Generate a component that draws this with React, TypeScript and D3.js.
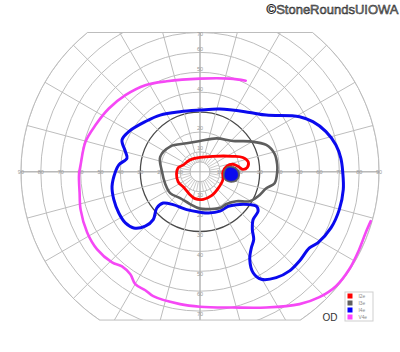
import React from "react";
import * as d3 from "d3";

// ---- grid definition (visual-field degrees) ----
const rings = [10, 20, 30, 40, 50, 60, 70, 80, 90];
const innerRing = 5;
const radialAngles = d3.range(0, 360, 15);
const innerSpokeAngles = d3.range(0, 360, 10);
const hLabels = [10, 20, 30, 40, 50, 60, 70, 80, 90];
const vLabels = [10, 20, 30, 40, 50, 60, 70];
const clipTop = 70;
const clipBottom = -74.5;

// ---- isopters: [horizontal deg, vertical deg] ----
const V4e: [number, number][] = [
  [23, 45.8], [15, 46.8], [0, 46.8], [-16.7, 45.5], [-27.5, 43.5], [-37.5, 38.5],
  [-45.8, 31.8], [-52.5, 23.5], [-57.5, 15.2], [-60, 3.5], [-60.8, -1.5], [-60.5, -10.5],
  [-60, -19], [-56.7, -30.5], [-51.7, -39], [-44.2, -45.5], [-39.2, -47.5], [-35, -51.5],
  [-32.5, -56.5], [-27.5, -59.5], [-23.5, -62.5], [-10, -66.5], [0, -67.8], [16.5, -68.2],
  [33.3, -68.2], [50, -66.5], [60, -63], [68.3, -57.5], [75, -49], [80, -39],
  [83.3, -30.5], [85.8, -24.8],
];

const I4e: [number, number][] = [
  [0, 31], [10, 31.5], [25, 29.8], [33.3, 28.5], [50, 27.7], [56.7, 25.2], [63.3, 20.2],
  [68.3, 13.5], [70.8, 6.8], [71.7, 0.2], [72, -9], [70, -19], [65.8, -28.2], [59.2, -35.7],
  [55, -38.2], [50, -44.8], [45, -49.8], [38.3, -53.2], [30.8, -54], [26.7, -50.7],
  [25, -44], [25.8, -38.2], [27, -34], [26.3, -29], [26.7, -24], [29.2, -19.8],
  [28.3, -17.3], [25, -16.5], [18.3, -16.5], [14.2, -17.3], [10, -19.8], [4.2, -20.7],
  [0, -20.3], [-6.7, -19], [-13.5, -16.5], [-18.5, -15.7], [-21.7, -18.2], [-23.5, -24],
  [-27.5, -27.3], [-33.3, -28.2], [-37.5, -25.7], [-40.8, -20.7], [-43.3, -14],
  [-44.2, -7.3], [-42.5, 0], [-40.8, 3.5], [-36.7, 6.8], [-37.5, 10.2], [-39.2, 16],
  [-35.8, 20.2], [-27.5, 25.2], [-20, 28.5], [-10, 30.2],
];

const I3e: [number, number][] = [
  [0, 15.5], [8.3, 16.8], [16.5, 15.5], [25, 15.3], [33.3, 13.5], [37.5, 9], [38.8, 3.5],
  [38.8, 0], [37.5, -5.7], [33.3, -8.3], [29.2, -12.3], [25, -14.8], [18.3, -14.8],
  [13.3, -16.2], [10, -18.2], [5, -18.7], [0, -18.5], [-5, -16.2], [-10, -13.2],
  [-15, -10.7], [-17.5, -6], [-19.2, 0.5], [-20, 7.5], [-15, 12.7], [-6.7, 14.3],
];

const I2e: [number, number][] = [
  [-8.3, 3.5], [-5, 6], [0, 7.2], [6.5, 7.8], [16.5, 7.8], [21.5, 7.2], [24.2, 5],
  [23.8, 2.2], [21.5, 1.2], [19, 2.8], [16.5, 3.8], [13.5, 2.8], [11.5, -0.2], [11.5, -4],
  [9.2, -8.2], [5.8, -12], [1.7, -13.8], [-2.5, -13.5], [-5.5, -11], [-8, -8], [-11, -5],
  [-11.8, -1], [-11, 2],
];

// blind spot islands
const blindI3e: [number, number][] = [
  [15.5, 2.8], [18.8, 1.5], [19.8, -1.5], [18.5, -4.5], [15.5, -5.2], [12.5, -4], [11.8, -1], [13, 2],
];
const blindI4e: [number, number][] = [
  [15.5, 2], [18, 1], [19, -1.5], [18, -3.8], [15.5, -4.5], [13, -3.5], [12.5, -1], [13.5, 1.5],
];

const legendNames = ["I2e", "I3e", "I4e", "V4e"];
const legendColors = ["#ff0000", "#606060", "#0000ff", "#ff44ff"];

export default function App() {
  const CX = 200;
  const CY = 171.8;
  const R90 = 179.1;
  const x = d3.scaleLinear().domain([-90, 90]).range([CX - R90, CX + R90]);
  const y = d3.scaleLinear().domain([-90, 90]).range([CY + R90, CY - R90]);
  const r = (d: number) => x(d) - x(0);

  const yTop = y(clipTop);
  const yBot = y(clipBottom);
  const halfTop = Math.sqrt(R90 * R90 - (CY - yTop) ** 2);
  const halfBot = Math.sqrt(R90 * R90 - (yBot - CY) ** 2);
  const boundary =
    `M${CX - halfTop},${yTop} L${CX + halfTop},${yTop} ` +
    `A${R90},${R90} 0 0 1 ${CX + halfBot},${yBot} ` +
    `L${CX - halfBot},${yBot} A${R90},${R90} 0 0 1 ${CX - halfTop},${yTop} Z`;

  const closed = d3
    .line<[number, number]>()
    .x((d) => x(d[0]))
    .y((d) => y(d[1]))
    .curve(d3.curveCatmullRomClosed.alpha(0.5));
  const open = d3
    .line<[number, number]>()
    .x((d) => x(d[0]))
    .y((d) => y(d[1]))
    .curve(d3.curveCatmullRom.alpha(0.5));

  const gridColor = "#bdbdbd";
  const labelColor = "#9a9a9a";
  const rad = (a: number) => (a * Math.PI) / 180;

  return (
    <svg
      width={400}
      height={352}
      style={{ position: "absolute", left: 0, top: 0, background: "#fff" }}
      fontFamily="Liberation Sans, Arial, sans-serif"
    >
      <defs>
        <clipPath id="field">
          <path d={boundary} />
        </clipPath>
      </defs>
      <rect width={400} height={352} fill="#fff" />
      <g clipPath="url(#field)">
        {rings.map((d) => (
          <circle
            key={"r" + d}
            cx={CX}
            cy={CY}
            r={r(d)}
            fill="none"
            stroke={d === 30 ? "#4a4a4a" : gridColor}
            strokeWidth={d === 30 ? 1.3 : 1}
          />
        ))}
        <circle cx={CX} cy={CY} r={r(innerRing)} fill="none" stroke={gridColor} strokeWidth={1} />
        {radialAngles.map((a) => (
          <line
            key={"a" + a}
            x1={CX + r(10) * Math.cos(rad(a))}
            y1={CY - r(10) * Math.sin(rad(a))}
            x2={CX + r(100) * Math.cos(rad(a))}
            y2={CY - r(100) * Math.sin(rad(a))}
            stroke={gridColor}
            strokeWidth={1}
          />
        ))}
        {innerSpokeAngles.map((a) => (
          <line
            key={"s" + a}
            x1={CX + r(innerRing) * Math.cos(rad(a))}
            y1={CY - r(innerRing) * Math.sin(rad(a))}
            x2={CX + r(10) * Math.cos(rad(a))}
            y2={CY - r(10) * Math.sin(rad(a))}
            stroke={gridColor}
            strokeWidth={0.8}
          />
        ))}
        <line x1={x(-95)} y1={CY} x2={x(95)} y2={CY} stroke="#b0b0b0" strokeWidth={1} />
        <line x1={CX} y1={y(95)} x2={CX} y2={y(-95)} stroke="#b0b0b0" strokeWidth={1} />
      </g>
      <path d={boundary} fill="none" stroke={gridColor} strokeWidth={1} />

      {/* axis labels */}
      <g fontSize={5.5} fill={labelColor} textAnchor="middle">
        {hLabels.map((d) => (
          <React.Fragment key={"h" + d}>
            <text x={x(-d)} y={CY + 1.9}>{d}</text>
            <text x={x(d)} y={CY + 1.9}>{d}</text>
          </React.Fragment>
        ))}
        {vLabels.map((d) => (
          <React.Fragment key={"v" + d}>
            <text x={CX} y={Math.max(y(d) - 3.5, y(clipTop) + 1.6) + 1.9}>{d}</text>
            <text x={CX} y={y(-d) + 3.2 + 1.9}>{d}</text>
          </React.Fragment>
        ))}
      </g>

      {/* isopters */}
      <path d={open(V4e) || ""} fill="none" stroke="#f548f5" strokeWidth={2.6} strokeLinecap="round" />
      <path d={closed(I4e) || ""} fill="none" stroke="#0a0aee" strokeWidth={3} strokeLinejoin="round" />
      <path d={closed(I3e) || ""} fill="none" stroke="#5e5e5e" strokeWidth={2.6} strokeLinejoin="round" />
      <path d={closed(I2e) || ""} fill="none" stroke="#ff0000" strokeWidth={2.8} strokeLinejoin="round" />
      <path d={closed(blindI3e) || ""} fill="#5e5e5e" stroke="#5e5e5e" strokeWidth={1} />
      <path d={closed(blindI4e) || ""} fill="#0a0aee" stroke="#0a0aee" strokeWidth={0.5} />

      {/* legend */}
      <rect x={345} y={292} width={28} height={29} fill="#fff" stroke="#cfcfcf" strokeWidth={1} />
      {legendNames.map((n, i) => (
        <g key={n}>
          <rect x={347.5} y={293.5 + i * 7} width={5} height={5} fill={legendColors[i]} />
          <text x={358.5} y={297.8 + i * 7} fontSize={4.8} fill="#888">{n}</text>
        </g>
      ))}
      <text x={322.5} y={320.6} fontSize={10} fill="#333">OD</text>

      <text
        x={398.5}
        y={14}
        fontSize={13}
        textAnchor="end"
        fill="#8a8a8a"
        stroke="#222"
        strokeWidth={0.5}
      >
        ©StoneRoundsUIOWA
      </text>
    </svg>
  );
}
